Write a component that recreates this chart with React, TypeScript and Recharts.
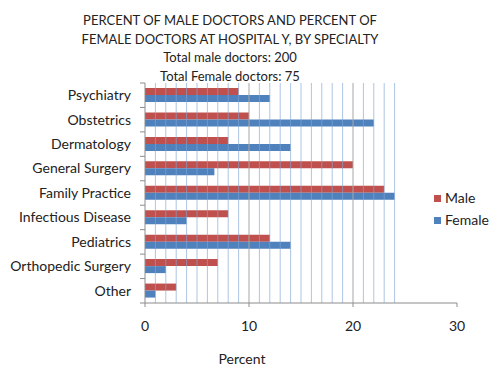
import React from 'react';
import { BarChart, Bar, XAxis, YAxis, ReferenceLine } from 'recharts';

const specialties = [
  'Psychiatry',
  'Obstetrics',
  'Dermatology',
  'General Surgery',
  'Family Practice',
  'Infectious Disease',
  'Pediatrics',
  'Orthopedic Surgery',
  'Other',
];
const maleValues = [9, 10, 8, 20, 23, 8, 12, 7, 3];
const femaleValues = [12, 22, 14, 6.67, 24, 4, 14, 2, 1];
const xTicks = [0, 10, 20, 30];
const minorLines = [1, 2, 3, 4, 5, 6, 7, 8, 9, 11, 12, 13, 14, 15, 16, 17, 18, 19, 21, 22, 23, 24];
const majorLines = [10, 20];
const titleLines = [
  'PERCENT OF MALE DOCTORS AND PERCENT OF',
  'FEMALE DOCTORS AT HOSPITAL Y, BY SPECIALTY',
  'Total male doctors: 200',
  'Total Female doctors: 75',
];
const legendItems = ['Male', 'Female'];

const data = specialties.map((s, i) => ({ name: s, Male: maleValues[i], Female: femaleValues[i] }));

const FONT = 'Lato, "Open Sans", sans-serif';
const TEXT = '#222';
const RED = '#C0504D';
const BLUE = '#4F81BD';
const AXIS = '#8C8C8C';

const PLOT_TOP = 83;
const PLOT_BOTTOM = 303;
const BAND = (PLOT_BOTTOM - PLOT_TOP) / specialties.length;

const YTick = (props: any) => {
  const { x, y, payload, index } = props;
  return (
    <g>
      <text x={x} y={y} dy="0.35em" textAnchor="end" fontSize={14} fontFamily={FONT} fill={TEXT}>
        {payload.value}
      </text>
      <line x1={x + 9} x2={x + 14} y1={y - BAND / 2} y2={y - BAND / 2} stroke={AXIS} />
      {index === specialties.length - 1 ? (
        <line x1={x + 9} x2={x + 14} y1={y + BAND / 2} y2={y + BAND / 2} stroke={AXIS} />
      ) : null}
    </g>
  );
};

export default function App() {
  const colors = [RED, BLUE];
  return (
    <div style={{ position: 'absolute', left: 0, top: 0, width: 498, height: 369, background: '#fff' }}>
      <BarChart
        width={498}
        height={369}
        data={data}
        layout="vertical"
        margin={{ top: PLOT_TOP, bottom: 0, left: 0, right: 41 }}
        barSize={7}
        barGap={0}
        style={{ position: 'absolute', left: 0, top: 0 }}
      >
        <XAxis
          type="number"
          domain={[0, 30]}
          ticks={xTicks}
          interval={0}
          height={369 - PLOT_BOTTOM}
          axisLine={{ stroke: AXIS }}
          tickLine={{ stroke: AXIS }}
          tickSize={4}
          tickMargin={14}
          tick={{ fontSize: 14, fontFamily: FONT, fill: TEXT }}
          label={{ value: 'Percent', position: 'insideBottom', offset: 5, dx: -59, fontSize: 14, fontFamily: FONT, fill: TEXT }}
        />
        <YAxis
          type="category"
          dataKey="name"
          width={145}
          axisLine={{ stroke: AXIS }}
          tickLine={false}
          tickSize={0}
          tickMargin={14}
          interval={0}
          tick={<YTick />}
        />
        <Bar dataKey="Male" fill={RED} isAnimationActive={false} />
        <Bar dataKey="Female" fill={BLUE} isAnimationActive={false} />
        {minorLines.map((v) => (
          <ReferenceLine key={v} x={v} stroke="#7FA6D6" strokeOpacity={0.65} />
        ))}
        {majorLines.map((v) => (
          <ReferenceLine key={'m' + v} x={v} stroke="#A6A6A6" />
        ))}
      </BarChart>
      <div
        style={{
          position: 'absolute',
          left: 0,
          top: 11,
          width: 460,
          textAlign: 'center',
          fontFamily: FONT,
          fontSize: 13,
          lineHeight: '18.5px',
          color: TEXT,
        }}
      >
        {titleLines.map((t) => (
          <div key={t}>{t}</div>
        ))}
      </div>
      <div
        style={{
          position: 'absolute',
          left: 434,
          top: 187,
          fontFamily: FONT,
          fontSize: 14,
          color: TEXT,
          lineHeight: '22px',
        }}
      >
        {legendItems.map((n, i) => (
          <div key={n} style={{ display: 'flex', alignItems: 'center' }}>
            <span style={{ display: 'inline-block', width: 7, height: 7, background: colors[i], marginRight: 4 }} />
            <span>{n}</span>
          </div>
        ))}
      </div>
    </div>
  );
}
